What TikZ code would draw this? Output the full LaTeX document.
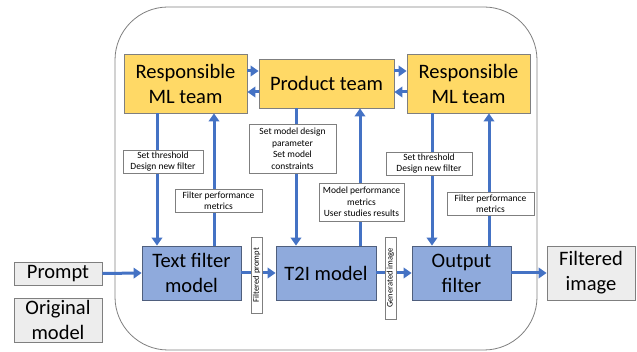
\documentclass[tikz,border=0pt]{standalone}
\usepackage{fontspec}
\setmainfont{Carlito}
\usetikzlibrary{arrows.meta}
\definecolor{arrblue}{HTML}{4472C4}
\definecolor{teamyellow}{HTML}{FFD966}
\definecolor{modelblue}{HTML}{8FAADC}
\definecolor{iogray}{HTML}{EDEDED}
\definecolor{edgegray}{HTML}{7F7F7F}
\definecolor{modeledge}{HTML}{4F5F7D}
\tikzset{
  team/.style={draw=edgegray, fill=teamyellow, line width=0.8pt, inner sep=0pt, align=center,
    font=\fontsize{20.5}{25}\selectfont},
  model/.style={draw=modeledge, fill=modelblue, line width=0.8pt, inner sep=0pt, align=center,
    font=\fontsize{20.5}{25}\selectfont},
  iobox/.style={draw=edgegray, fill=iogray, line width=0.8pt, inner sep=0pt, align=center,
    font=\fontsize{20.5}{25}\selectfont},
  lbl/.style={draw=edgegray, fill=white, line width=0.7pt, inner sep=0pt, align=center,
    font=\fontsize{9.5}{11.5}\selectfont},
  vlbl/.style={draw=edgegray, fill=white, line width=0.7pt, inner sep=0pt, rotate=90,
    font=\fontsize{8.5}{9}\selectfont},
  arr/.style={draw=arrblue, line width=3pt, -{Triangle[width=10.5pt,length=8pt]}}
}
\begin{document}
\begin{tikzpicture}[x=1pt,y=-1pt]
\useasboundingbox (0,0) rectangle (637,352);
% outer frame
\draw[draw=edgegray, line width=0.8pt, rounded corners=53pt] (115,7) rectangle (537,350);

% main nodes
\node[team, minimum width=123pt, minimum height=59pt] (lml) at (185.5,83.5) {Responsible\\ML team};
\node[team, minimum width=135pt, minimum height=49pt] (prod) at (326.5,83.5) {Product team};
\node[team, minimum width=123pt, minimum height=59pt] (rml) at (468.5,83.5) {Responsible\\ML team};
\node[model, minimum width=99pt, minimum height=54pt] (tf) at (191.5,273) {Text filter\\model};
\node[model, minimum width=100pt, minimum height=54pt] (t2i) at (326,273) {T2I model};
\node[model, minimum width=99pt, minimum height=54pt] (of) at (461.5,273) {Output\\filter};
\node[iobox, minimum width=88pt, minimum height=54pt] (fi) at (591,273) {Filtered\\image};
\node[iobox, minimum width=88pt, minimum height=23pt] (prompt) at (58,273.5) {Prompt};
\node[iobox, minimum width=88pt, minimum height=44pt] (orig) at (58,320) {Original\\model};

% x positions of vertical connectors
\coordinate (xa) at (157,0);
\coordinate (xb) at (214,0);
\coordinate (xc) at (296,0);
\coordinate (xd) at (360,0);
\coordinate (xe) at (432,0);
\coordinate (xf) at (489,0);
\coordinate (ya) at (0,71);
\coordinate (yb) at (0,92);

% horizontal team connectors
\draw[arr] (lml.east |- ya) -- (prod.west |- ya);
\draw[arr] (prod.west |- yb) -- (lml.east |- yb);
\draw[arr] (prod.east |- ya) -- (rml.west |- ya);
\draw[arr] (rml.west |- yb) -- (prod.east |- yb);

% vertical connectors
\draw[arr] (lml.south -| xa) -- (tf.north -| xa);
\draw[arr] (tf.north -| xb) -- (lml.south -| xb);
\draw[arr] (prod.south -| xc) -- (t2i.north -| xc);
\draw[arr] (t2i.north -| xd) -- (prod.south -| xd);
\draw[arr] (rml.south -| xe) -- (of.north -| xe);
\draw[arr] (of.north -| xf) -- (rml.south -| xf);

% flow connectors
\draw[arr] (prompt.east) -- (tf.west);
\draw[arr] (tf.east) -- (t2i.west);
\draw[arr] (t2i.east) -- (of.west);
\draw[arr] (of.east) -- (fi.west);

% labels
\node[lbl, minimum width=80pt, minimum height=23pt] (l1) at (163,161.5) {Set threshold\\Design new filter};
\node[lbl, minimum width=87pt, minimum height=23pt] (l2) at (218.5,200.5) {Filter performance\\metrics};
\node[lbl, minimum width=87pt, minimum height=49pt] (l3) at (292.5,148.5) {Set model design\\parameter\\Set model\\constraints};
\node[lbl, minimum width=85pt, minimum height=38pt] (l4) at (361.5,202) {Model performance\\metrics\\User studies results};
\node[lbl, minimum width=86pt, minimum height=23pt] (l5) at (429,163.5) {Set threshold\\Design new filter};
\node[lbl, minimum width=87pt, minimum height=23pt] (l6) at (490.5,203.5) {Filter performance\\metrics};
\node[vlbl, minimum width=76pt, minimum height=11pt] (l7) at (256.5,275) {Filtered prompt};
\node[vlbl, minimum width=82pt, minimum height=11pt] (l8) at (390.5,278) {Generated image};
\end{tikzpicture}
\end{document}
